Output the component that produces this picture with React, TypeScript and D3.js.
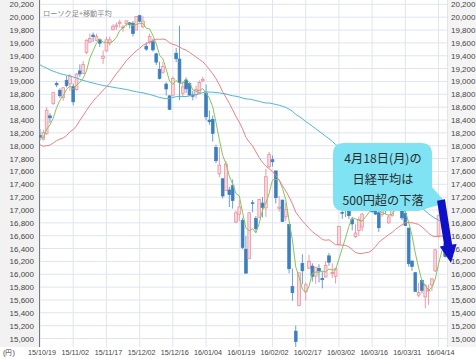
import React from 'react';
import * as d3 from 'd3';

const dates = [
"15/10/19","15/10/20","15/10/21","15/10/22","15/10/23","15/10/26","15/10/27","15/10/28","15/10/29","15/10/30",
"15/11/02","15/11/04","15/11/05","15/11/06","15/11/09","15/11/10","15/11/11","15/11/12","15/11/13","15/11/16",
"15/11/17","15/11/18","15/11/19","15/11/20","15/11/24","15/11/25","15/11/26","15/11/27","15/11/30","15/12/01",
"15/12/02","15/12/03","15/12/04","15/12/07","15/12/08","15/12/09","15/12/10","15/12/11","15/12/14","15/12/15",
"15/12/16","15/12/17","15/12/18","15/12/21","15/12/22","15/12/24","15/12/25","15/12/28","15/12/29","15/12/30",
"16/01/04","16/01/05","16/01/06","16/01/07","16/01/08","16/01/12","16/01/13","16/01/14","16/01/15","16/01/18",
"16/01/19","16/01/20","16/01/21","16/01/22","16/01/25","16/01/26","16/01/27","16/01/28","16/01/29","16/02/01",
"16/02/02","16/02/03","16/02/04","16/02/05","16/02/08","16/02/09","16/02/10","16/02/12","16/02/15","16/02/16",
"16/02/17","16/02/18","16/02/19","16/02/22","16/02/23","16/02/24","16/02/25","16/02/26","16/02/29","16/03/01",
"16/03/02","16/03/03","16/03/04","16/03/07","16/03/08","16/03/09","16/03/10","16/03/11","16/03/14","16/03/15",
"16/03/16","16/03/17","16/03/18","16/03/22","16/03/23","16/03/24","16/03/25","16/03/28","16/03/29","16/03/30",
"16/03/31","16/04/01","16/04/04","16/04/05","16/04/06","16/04/07","16/04/08","16/04/11","16/04/12","16/04/13",
"16/04/14","16/04/15","16/04/18"];

const opens = [
18162,18102,18186,18464,18657,18968,18863,18747,19018,18962,
18919,18872,19164,19121,19450,19613,19722,19640,19650,19360,
19475,19599,19805,19858,19900,19839,19902,19912,19905,19800,
20024,19850,19548,19605,19618,19431,19188,19143,18960,18776,
18787,19440,19349,18817,19023,18967,18790,18795,18826,19009,
18818,18398,18410,17975,17562,17486,17301,17311,17378,16813,
16935,16836,16389,16240,17112,16868,16886,17107,17033,17673,
17783,17608,17026,17155,16893,16774,15807,15114,15513,16167,
15726,16095,16127,15972,16092,15934,15957,16286,16013,15968,
16466,16961,17041,16980,16851,16584,16682,16734,17064,17230,
17035,17110,16956,16926,17032,16799,16913,17104,17040,17118,
16948,16719,16206,16024,15675,15906,15648,15739,15834,16052,
16586,16984,16476];

const highs = [
18260,18251,18601,18505,18830,19000,18893,18912,19085,19114,
18969,19127,19265,19317,19657,19745,19762,19742,19670,19482,
19695,19699,19890,19917,19960,19883,19945,19924,19939,20017,
20038,20012,19609,19743,19666,19445,19308,19298,18987,18782,
19079,19520,19869,19004,19063,18967,18850,18934,19015,19071,
18951,18547,18469,18016,17975,17486,17764,17362,17474,16989,
17159,16878,16594,16959,17157,16906,17175,17201,17640,17905,
17848,17609,17219,17156,17112,16774,16088,15199,16022,16311,
15871,16303,16171,16111,16156,16045,16204,16330,16171,16101,
16746,17088,17045,17068,16891,16778,16897,16953,17292,17244,
17148,17110,17002,17080,17102,16925,17004,17138,17191,17118,
17063,16719,16209,16037,15868,15906,15846,15840,15935,16393,
16911,16985,16569];

const lows = [
18082,18081,18166,18352,18635,18911,18744,18699,18906,18853,
18627,18858,19071,19115,19427,19600,19615,19627,19536,19273,
19466,19557,19794,19802,19839,19773,19857,19826,19701,19800,
19920,19826,19476,19575,19463,19255,19030,19119,18781,18562,
18765,19300,18710,18768,18821,18780,18706,18734,18806,18987,
18394,18327,18064,17730,17509,17179,17301,17046,17022,16790,
16829,16387,16017,16240,16964,16652,16878,16883,16893,17652,
17676,17100,16974,16819,16826,16014,15588,14865,15500,15842,
15591,16077,15886,15852,15873,15780,15952,16132,15941,15855,
16456,16863,16889,16858,16682,16563,16598,16669,17059,17068,
16958,16923,16658,16893,16940,16789,16891,17030,16983,16840,
16758,16118,16052,15733,15640,15703,15471,15525,15739,16034,
16570,16710,16258];

const closes = [
18131,18207,18554,18435,18825,18947,18777,18903,18935,19083,
18683,19116,19117,19265,19642,19671,19697,19697,19596,19393,
19649,19648,19859,19879,19924,19847,19944,19883,19747,20012,
19938,19939,19504,19698,19492,19301,19046,19230,18883,18565,
19049,19353,18986,18916,18886,18789,18769,18873,18982,19033,
18450,18374,18191,17767,17697,17218,17715,17240,17147,16955,
17048,16416,16017,16958,17110,16708,17163,17041,17518,17865,
17750,17191,17044,16819,17004,16085,15713,14952,16022,16054,
15836,16196,15967,16111,16052,15915,16140,16188,16026,16085,
16746,16960,17014,16911,16783,16642,16852,16938,17233,17117,
16974,16936,16724,17048,17000,16892,17002,17134,17103,16878,
16758,16164,16123,15732,15715,15749,15821,15751,15928,16381,
16911,16848,16275];

// closes of the 74 sessions before 15/10/19 (needed for the moving averages)
const priorCloses = [
20236,
20329,20522,20539,20112,20376,19737,19855,19780,20089,20385,20463,20600,20650,20841,20593,20683,20544,20350,20328,20303,20522,20585,
20548,20520,20614,20664,20724,20808,20720,20392,20595,20519,20620,20554,20222,20033,19435,18540,17806,18376,18574,19136,18890,
18165,17930,18182,17792,17860,17427,18770,18299,18264,17965,18026,18171,18432,18070,17571,17880,17645,16930,17388,
17722,17725,18005,18186,18322,17891,18438,18234,17891,18096,18291];

const maPeriods = [5, 25, 75];
const maColors = ['#86c45a', '#ee8080', '#4db6d6'];

const yTickValues = d3.range(15000, 20201, 200);
const titleText = 'ローソク足+移動平均';
const calloutLines = ['4月18日(月)の', '日経平均は', '500円超の下落'];

const W = 476, H = 359;
const plotLeft = 39, plotRight = 447, plotTop = 0, plotBottom = 347;

export default function App() {
  const x = d3.scaleLinear().domain([0, 122]).range([40, 445.2]);
  const y = d3.scaleLinear().domain([15000, 20000]).range([338.5, 17.2]);
  const all = priorCloses.concat(closes);
  const P = priorCloses.length;
  const mas = maPeriods.map((n) =>
    closes.map((_, i) => d3.mean(all.slice(i + P - n + 1, i + P + 1)) as number)
  );
  const line = d3.line<number>().x((_, i) => x(i)).y((d) => y(d));
  const fmt = d3.format(',');
  const tickIdx = dates.map((_, i) => i).filter((i) => i % 10 === 0);
  const font = 'Liberation Sans, Arial, sans-serif';
  const bw = 2.8;

  // arrow geometry
  const ax0 = 441, ay0 = 200, ax1 = 451, ay1 = 263;
  const len = Math.hypot(ax1 - ax0, ay1 - ay0);
  const ux = (ax1 - ax0) / len, uy = (ay1 - ay0) / len;
  const nx = uy, ny = -ux;
  const sw = 4, hw = 8.5, hl = 18;
  const bx = ax1 - ux * hl, by = ay1 - uy * hl;
  const arrowPts = [
    [ax0 + nx * sw, ay0 + ny * sw],
    [bx + nx * sw, by + ny * sw],
    [bx + nx * hw, by + ny * hw],
    [ax1, ay1],
    [bx - nx * hw, by - ny * hw],
    [bx - nx * sw, by - ny * sw],
    [ax0 - nx * sw, ay0 - ny * sw],
  ].map((p) => p.join(',')).join(' ');

  // callout
  const cx0 = 333, cy0 = 143, cx1 = 432, cy1 = 211, r = 11;
  const callout = `M${cx0 + r},${cy0} H${cx1 - r} Q${cx1},${cy0} ${cx1},${cy0 + r} V${cy1 - 24} L446,203 L${cx1 - 14},${cy1} H${cx0 + r} Q${cx0},${cy1} ${cx0},${cy1 - r} V${cy0 + r} Q${cx0},${cy0} ${cx0 + r},${cy0} Z`;

  return (
    <svg width={W} height={H} style={{ position: 'absolute', left: 0, top: 0, background: '#fff' }} fontFamily={font}>
      <defs>
        <clipPath id="plotclip">
          <rect x={plotLeft} y={plotTop} width={plotRight - plotLeft} height={plotBottom - plotTop} />
        </clipPath>
      </defs>
      <rect x={0} y={0} width={W} height={H} fill="#fff" />
      <rect x={0} y={0} width={plotLeft} height={plotBottom} fill="#f2f2f2" />
      <rect x={plotRight} y={0} width={W - plotRight} height={plotBottom} fill="#f4f4f4" />
      {/* grid */}
      {yTickValues.map((v) => (
        <line key={'h' + v} x1={plotLeft} x2={plotRight} y1={y(v)} y2={y(v)} stroke="#dfe4f0" strokeWidth={1} />
      ))}
      {tickIdx.map((i) => (
        <line key={'v' + i} x1={x(i)} x2={x(i)} y1={plotTop} y2={plotBottom} stroke="#dfe4f0" strokeWidth={1} />
      ))}
      <line x1={plotRight + 0.5} x2={plotRight + 0.5} y1={0} y2={plotBottom} stroke="#e4e4e4" />
      <line x1={plotLeft + 0.5} x2={plotLeft + 0.5} y1={0} y2={plotBottom} stroke="#777" />
      {/* y labels */}
      {yTickValues.map((v) => (
        <g key={'l' + v} fontSize={8} fill="#444">
          <text x={34} y={y(v) + 3} textAnchor="end">{fmt(v)}</text>
          <text x={451} y={y(v) + 3}>{fmt(v)}</text>
        </g>
      ))}
      {/* x labels */}
      <text x={3} y={355} fontSize={7.2} fill="#444">(円)</text>
      {tickIdx.map((i) => (
        <text key={'d' + i} x={x(i) + 2} y={355} fontSize={7.2} fill="#444" textAnchor="middle">{dates[i]}</text>
      ))}
      <text x={43} y={16} fontSize={7.2} fill="#888" fontFamily="Noto Sans CJK JP, sans-serif">{titleText}</text>
      <g clipPath="url(#plotclip)">
        {closes.map((c, i) => {
          const up = c >= opens[i];
          const col = up ? '#e98a97' : '#3d7fbd';
          const top = y(Math.max(c, opens[i]));
          const bot = y(Math.min(c, opens[i]));
          return (
            <g key={'c' + i}>
              <line x1={x(i)} x2={x(i)} y1={y(highs[i])} y2={y(lows[i])} stroke={up ? '#ec9aa5' : '#6aa0d0'} strokeWidth={1} />
              <rect x={x(i) - bw / 2} y={top} width={bw} height={Math.max(bot - top, 0.8)}
                fill={up ? '#fbd6db' : '#3d7fbd'} stroke={col} strokeWidth={0.7} />
            </g>
          );
        })}
        {mas.map((m, k) => (
          <path key={'m' + k} d={line(m) || ''} fill="none" stroke={maColors[k]} strokeWidth={1} />
        ))}
      </g>
      <path d={callout} fill="#7fe3f4" />
      {calloutLines.map((t, i) => (
        <text key={'t' + i} x={383} y={162.5 + i * 21} fontSize={12.2} fill="#2a2a2a" textAnchor="middle"
          fontFamily="Noto Sans CJK JP, sans-serif">{t}</text>
      ))}
      <polygon points={arrowPts} fill="#1010c8" />
    </svg>
  );
}
